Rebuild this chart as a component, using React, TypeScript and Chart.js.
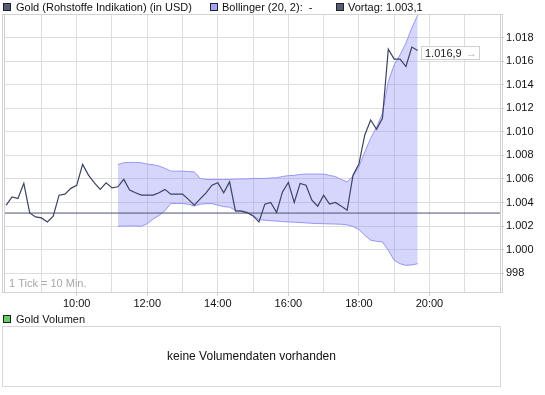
import { useEffect, useRef } from "react";
import { Chart, registerables } from "chart.js";

Chart.register(...registerables);

// ---- data ----
const startMinute = 480; // 8:00
const stepMinutes = 10; // 1 Tick = 10 Min.
const priceValues = [
  1003.77, 1004.48, 1004.34, 1005.62, 1003.11, 1002.77, 1002.69, 1002.35, 1002.83, 1004.62,
  1004.71, 1005.2, 1005.45, 1007.23, 1006.32, 1005.67, 1005.11, 1005.67, 1005.24, 1005.33,
  1005.96, 1005.05, 1004.82, 1004.62, 1004.62, 1004.62, 1004.82, 1005.11, 1004.71, 1004.71,
  1004.71, 1004.26, 1003.77, 1004.3, 1004.82, 1005.47, 1005.67, 1004.82, 1005.75, 1003.26,
  1003.26, 1003.12, 1002.86, 1002.35, 1003.86, 1004.0, 1003.15, 1004.9, 1005.7, 1004.0,
  1005.62, 1005.47, 1004.2, 1003.69, 1004.62, 1003.86, 1004.0, 1003.69, 1003.34, 1006.32,
  1007.26, 1009.73, 1011.0, 1010.21, 1011.15, 1017.02, 1016.17, 1016.17, 1015.54, 1017.19,
  1016.9,
];
const bollingerStartIndex = 19;
const bollingerUpper = [
  1007.23, 1007.37, 1007.4, 1007.4, 1007.37, 1007.26, 1007.2, 1007.09, 1006.9, 1006.66,
  1006.66, 1006.66, 1006.62, 1006.6, 1006.04, 1005.95, 1005.95, 1005.95, 1005.95, 1005.95,
  1005.98, 1006.0, 1006.0, 1006.04, 1006.04, 1006.04, 1006.08, 1006.1, 1006.2, 1006.28,
  1006.3, 1006.38, 1006.41, 1006.41, 1006.41, 1006.41, 1006.3, 1006.2, 1005.95, 1005.75,
  1006.24, 1007.03, 1008.3, 1009.45, 1010.38, 1011.57, 1014.26, 1015.68, 1016.53, 1017.53,
  1018.81, 1019.9,
];
const bollingerLower = [
  1001.98, 1002.0, 1002.0, 1002.0, 1001.98, 1002.2, 1002.6, 1002.9, 1003.3, 1003.91,
  1003.91, 1003.91, 1003.85, 1003.7, 1003.85, 1003.9, 1003.9, 1003.77, 1003.65, 1003.6,
  1003.34, 1003.3, 1003.2, 1002.9, 1002.55, 1002.49, 1002.45, 1002.42, 1002.38, 1002.35,
  1002.33, 1002.3, 1002.27, 1002.23, 1002.21, 1002.2, 1002.18, 1002.17, 1002.15, 1002.1,
  1001.95, 1001.7, 1001.22, 1000.8, 1000.7, 1000.65, 999.94, 999.09, 998.8, 998.66,
  998.7, 998.8,
];
const vortagValue = 1003.1;
const lastPriceLabel = "1.016,9";
const yTickValues = [998, 1000, 1002, 1004, 1006, 1008, 1010, 1012, 1014, 1016, 1018];
const xGridHours = [9, 10, 11, 12, 13, 14, 15, 16, 17, 18, 19, 20, 21];
const xLabelHours = [10, 12, 14, 16, 18, 20];

const legendMain = "Gold (Rohstoffe Indikation) (in USD)";
const legendBoll = "Bollinger (20, 2):  -";
const legendVortag = "Vortag: 1.003,1";
const legendVolume = "Gold Volumen";
const noVolumeText = "keine Volumendaten vorhanden";
const tickNote = "1 Tick = 10 Min.";

const FONT = "'Liberation Sans', Arial, sans-serif";

function fmtGerman(v: number): string {
  const r = Math.round(v);
  if (r >= 1000) {
    const rest = String(r % 1000).padStart(3, "0");
    return `${Math.floor(r / 1000)}.${rest}`;
  }
  return String(r);
}

export default function App() {
  const ref = useRef<HTMLCanvasElement | null>(null);

  useEffect(() => {
    const canvas = ref.current;
    if (!canvas) return;

    const priceData = priceValues.map((v, i) => ({ x: startMinute + i * stepMinutes, y: v }));
    const upperData = bollingerUpper.map((v, i) => ({
      x: startMinute + (bollingerStartIndex + i) * stepMinutes,
      y: v,
    }));
    const lowerData = bollingerLower.map((v, i) => ({
      x: startMinute + (bollingerStartIndex + i) * stepMinutes,
      y: v,
    }));
    const xMin = 478;
    const xMax = 1320;

    const square = (ctx: CanvasRenderingContext2D, x: number, y: number, fill: string) => {
      ctx.fillStyle = fill;
      ctx.fillRect(x, y, 8, 8);
      ctx.strokeStyle = "#222";
      ctx.lineWidth = 1;
      ctx.strokeRect(x + 0.5, y + 0.5, 7, 7);
    };

    const decor = {
      id: "decor",
      beforeDraw(chart: any) {
        const ctx = chart.ctx as CanvasRenderingContext2D;
        ctx.save();
        ctx.fillStyle = "#fff";
        ctx.fillRect(0, 0, chart.width, chart.height);
        ctx.restore();
      },
      afterDraw(chart: any) {
        const ctx = chart.ctx as CanvasRenderingContext2D;
        const ca = chart.chartArea;
        ctx.save();
        // frame
        ctx.strokeStyle = "#d2d2d2";
        ctx.lineWidth = 1;
        ctx.beginPath();
        ctx.moveTo(2.5, ca.top + 0.5);
        ctx.lineTo(502.5, ca.top + 0.5);
        ctx.moveTo(2.5, ca.bottom + 0.5);
        ctx.lineTo(502.5, ca.bottom + 0.5);
        ctx.moveTo(2.5, ca.top);
        ctx.lineTo(2.5, ca.bottom + 1);
        ctx.moveTo(4.5, ca.top);
        ctx.lineTo(4.5, ca.bottom + 1);
        ctx.moveTo(500.5, ca.top);
        ctx.lineTo(500.5, ca.bottom + 1);
        ctx.moveTo(502.5, ca.top);
        ctx.lineTo(502.5, ca.bottom + 1);
        ctx.stroke();

        // legend row
        ctx.textBaseline = "middle";
        ctx.font = `11px ${FONT}`;
        ctx.fillStyle = "#111";
        square(ctx, 3, 3, "#555c75");
        ctx.fillStyle = "#111";
        ctx.fillText(legendMain, 16, 7.5);
        square(ctx, 210, 3, "#a3a3ff");
        ctx.fillStyle = "#111";
        ctx.fillText(legendBoll, 222, 7.5);
        square(ctx, 336, 3, "#555c75");
        ctx.fillStyle = "#111";
        ctx.fillText(legendVortag, 348, 7.5);

        // tick note
        ctx.fillStyle = "#a8a8a8";
        ctx.font = `11px ${FONT}`;
        ctx.fillText(tickNote, 9, 284);

        // last price box
        const yLast = chart.scales.y.getPixelForValue(priceValues[priceValues.length - 1]);
        const bt = Math.round(yLast - 5) + 0.5;
        ctx.fillStyle = "#fff";
        ctx.fillRect(421.5, bt, 58, 13);
        ctx.strokeStyle = "#d0d0d0";
        ctx.strokeRect(421.5, bt, 58, 13);
        ctx.fillStyle = "#222";
        ctx.font = `11px ${FONT}`;
        ctx.fillText(lastPriceLabel, 425, bt + 7);
        ctx.fillStyle = "#b0b0b0";
        ctx.fillText("\u2192", 466, bt + 7);

        // volume panel
        square(ctx, 3, 315, "#66cc66");
        ctx.fillStyle = "#111";
        ctx.font = `11px ${FONT}`;
        ctx.fillText(legendVolume, 16, 319.5);
        ctx.strokeStyle = "#d8d8d8";
        ctx.strokeRect(2.5, 326.5, 498, 60);
        ctx.fillStyle = "#111";
        ctx.font = `12px ${FONT}`;
        ctx.textAlign = "center";
        ctx.fillText(noVolumeText, 251.5, 356.5);
        ctx.restore();
      },
    };

    const chart = new Chart(canvas, {
      type: "line",
      data: {
        datasets: [
          {
            label: "Gold",
            data: priceData,
            borderColor: "#3a4360",
            borderWidth: 1.2,
            pointRadius: 0,
            fill: false,
            tension: 0,
          },
          {
            label: "Vortag",
            data: [
              { x: xMin, y: vortagValue },
              { x: xMax, y: vortagValue },
            ],
            borderColor: "#4d546c",
            borderWidth: 1,
            pointRadius: 0,
            fill: false,
          },
          {
            label: "Bollinger oben",
            data: upperData,
            borderColor: "#9797f5",
            borderWidth: 1,
            pointRadius: 0,
            fill: "+1",
            backgroundColor: "rgba(140,140,250,0.36)",
            tension: 0,
          },
          {
            label: "Bollinger unten",
            data: lowerData,
            borderColor: "#9797f5",
            borderWidth: 1,
            pointRadius: 0,
            fill: false,
            tension: 0,
          },
        ],
      },
      options: {
        animation: false,
        responsive: false,
        maintainAspectRatio: false,
        events: [],
        layout: { padding: { left: 5, top: 14, right: 0, bottom: 83 } },
        plugins: {
          legend: { display: false },
          tooltip: { enabled: false },
        },
        scales: {
          x: {
            type: "linear",
            min: xMin,
            max: xMax,
            afterBuildTicks: (s: any) => {
              s.ticks = xGridHours.map((h) => ({ value: h * 60 }));
            },
            afterFit: (s: any) => {
              s.height = 20;
            },
            ticks: {
              autoSkip: false,
              maxRotation: 0,
              padding: 1,
              color: "#111",
              font: { family: FONT, size: 11 },
              callback: (v: any) => {
                const h = Number(v) / 60;
                return xLabelHours.includes(h) ? `${h}:00` : "";
              },
            },
            grid: {
              color: "#dddddd",
              lineWidth: 1,
              drawTicks: true,
              tickLength: 4,
              tickColor: (ctx: any) =>
                ctx.tick && xLabelHours.includes(ctx.tick.value / 60) ? "#cfcfcf" : "rgba(0,0,0,0)",
            },
            border: { display: false },
          },
          y: {
            type: "linear",
            position: "right",
            min: 996.4,
            max: 1020,
            afterBuildTicks: (s: any) => {
              s.ticks = yTickValues.map((v) => ({ value: v }));
            },
            afterFit: (s: any) => {
              s.width = 45;
            },
            ticks: {
              padding: 2,
              color: "#111",
              font: { family: FONT, size: 11 },
              callback: (v: any) => fmtGerman(Number(v)),
            },
            grid: {
              color: "#dddddd",
              lineWidth: 1,
              drawTicks: true,
              tickLength: 4,
              tickColor: "#cfcfcf",
            },
            border: { display: false },
          },
        },
      },
      plugins: [decor],
    } as any);

    return () => chart.destroy();
  }, []);

  return (
    <div style={{ position: "absolute", left: 0, top: 0, width: 545, height: 395 }}>
      <canvas ref={ref} width={545} height={395} style={{ width: 545, height: 395, display: "block" }} />
    </div>
  );
}
